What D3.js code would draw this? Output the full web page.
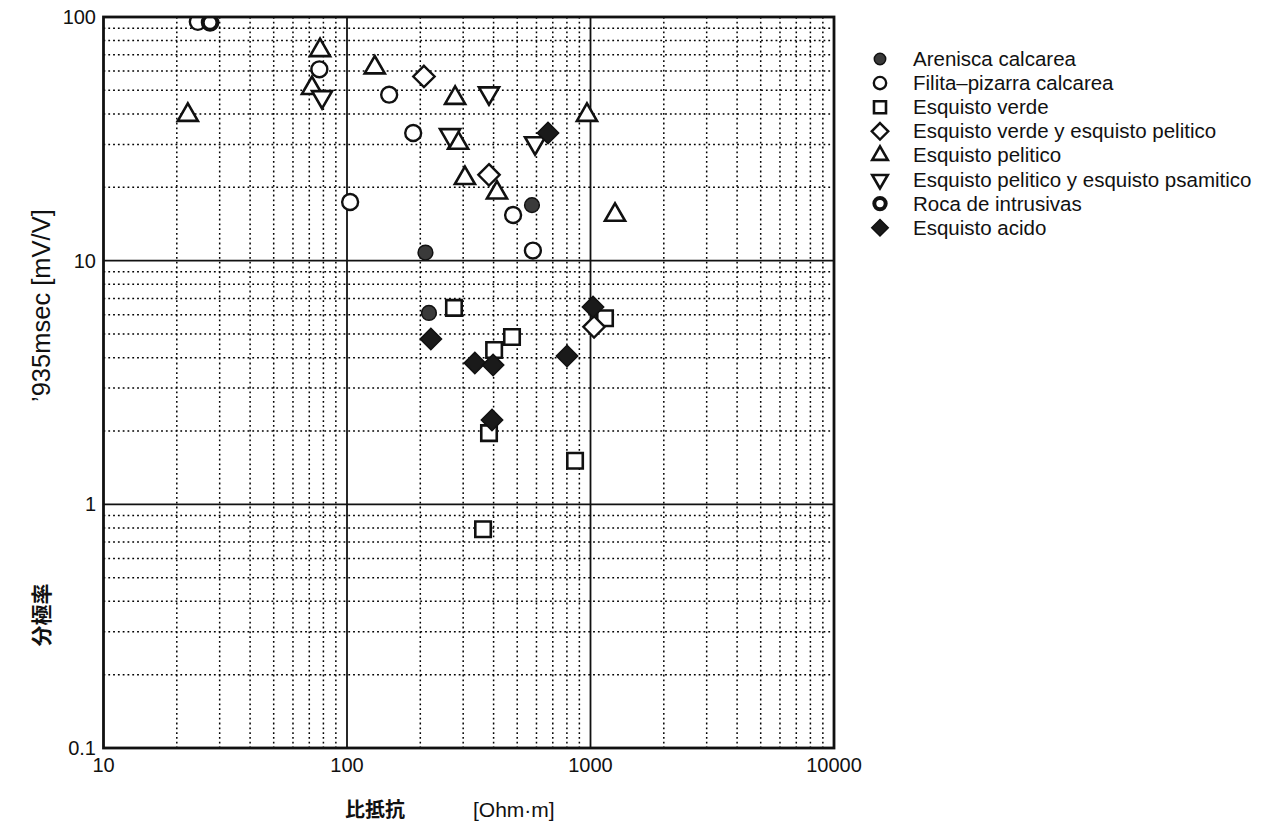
<!DOCTYPE html>
<html>
<head>
    <style>
        body { margin: 0; background: #fff; }
        text { font-family: "Liberation Sans", Arial, sans-serif; fill: #111; }
        .cjk { font-family: "Noto Sans CJK JP", sans-serif; font-weight: bold; }
    </style>
    <script src="https://d3js.org/d3.v7.min.js"></script>
</head>
<body>
    <svg width="1264" height="827"></svg>
    <script>
        // [resistivity Ohm-m, chargeability mV/V]
        var arenisca = [[210, 10.8], [217, 6.1], [575, 16.9]];
        var filita = [[24.4, 95.5], [77, 61], [149, 48], [187, 33.4], [103, 17.4], [481, 15.4], [580, 11]];
        var verde = [[275, 6.4], [1147, 5.8], [476, 4.86], [402, 4.3], [383, 1.96], [864, 1.51], [362, 0.79]];
        var verdePelitico = [[207, 57], [383, 22.5], [1034, 5.35]];
        var pelitico = [[22.2, 39.6], [77.5, 73], [71.8, 51], [130, 62], [278, 46.5], [286, 30.4], [305, 21.8], [413, 19], [967, 39.6], [1261, 15.4]];
        var peliticoPsam = [[79, 47], [383, 48.7], [265, 32.8], [592, 30.4]];
        var roca = [[27.4, 95]];
        var acido = [[669, 33.4], [221, 4.77], [1024, 6.46], [335, 3.8], [398, 3.73], [801, 4.06], [394, 2.22]];

        var seriesNames = ["Arenisca calcarea", "Filita\u2013pizarra calcarea", "Esquisto verde",
            "Esquisto verde y esquisto pelitico", "Esquisto pelitico",
            "Esquisto pelitico y esquisto psamitico", "Roca de intrusivas", "Esquisto acido"];
        var seriesData = [arenisca, filita, verde, verdePelitico, pelitico, peliticoPsam, roca, acido];

        var xTicks = [10, 100, 1000, 10000];
        var yTicks = [0.1, 1, 10, 100];

        var svg = d3.select("svg");
        var pl = 103.5, pr = 834, pt = 17, pb = 748;

        var x = d3.scaleLog().domain([10, 10000]).range([pl, pr]);
        var y = d3.scaleLog().domain([0.1, 100]).range([pb, pt]);

        // marker styles per series
        var styles = [
            {type: d3.symbolCircle, size: 170, fill: "#3a3a3a", stroke: "#111", sw: 1.5, rot: 0},
            {type: d3.symbolCircle, size: 200, fill: "#fff", stroke: "#111", sw: 2.4, rot: 0},
            {type: d3.symbolSquare, size: 240, fill: "#fff", stroke: "#111", sw: 2.6, rot: 0},
            {type: d3.symbolDiamond2, size: 290, fill: "#fff", stroke: "#111", sw: 2.4, rot: 0},
            {type: d3.symbolTriangle, size: 175, fill: "#fff", stroke: "#111", sw: 2.6, rot: 0},
            {type: d3.symbolTriangle, size: 175, fill: "#fff", stroke: "#111", sw: 2.6, rot: 180},
            {type: d3.symbolCircle, size: 170, fill: "#fff", stroke: "#111", sw: 4, rot: 0},
            {type: d3.symbolDiamond2, size: 290, fill: "#1a1a1a", stroke: "#111", sw: 1.5, rot: 0}
        ];

        // grid
        var grid = svg.append("g");
        var minorX = [], minorY = [];
        [10, 100, 1000].forEach(function(d) { for (var k = 2; k <= 9; k++) minorX.push(d * k); });
        [0.1, 1, 10].forEach(function(d) { for (var k = 2; k <= 9; k++) minorY.push(d * k); });

        grid.selectAll(".mx").data(minorX).enter().append("line")
            .attr("x1", function(d) { return x(d); }).attr("x2", function(d) { return x(d); })
            .attr("y1", pt).attr("y2", pb)
            .attr("stroke", "#000").attr("stroke-width", 1.5).attr("stroke-dasharray", "1.8,3");
        grid.selectAll(".my").data(minorY).enter().append("line")
            .attr("y1", function(d) { return y(d); }).attr("y2", function(d) { return y(d); })
            .attr("x1", pl).attr("x2", pr)
            .attr("stroke", "#000").attr("stroke-width", 1.5).attr("stroke-dasharray", "1.8,3");
        grid.selectAll(".Mx").data([100, 1000]).enter().append("line")
            .attr("x1", function(d) { return x(d); }).attr("x2", function(d) { return x(d); })
            .attr("y1", pt).attr("y2", pb)
            .attr("stroke", "#111").attr("stroke-width", 1.8);
        grid.selectAll(".My").data([1, 10]).enter().append("line")
            .attr("y1", function(d) { return y(d); }).attr("y2", function(d) { return y(d); })
            .attr("x1", pl).attr("x2", pr)
            .attr("stroke", "#111").attr("stroke-width", 1.8);

        // points, clipped to the frame
        svg.append("clipPath").attr("id", "plotclip").append("rect")
            .attr("x", pl).attr("y", pt).attr("width", pr - pl).attr("height", pb - pt);
        var pts = svg.append("g").attr("clip-path", "url(#plotclip)");

        seriesData.forEach(function(data, i) {
            var s = styles[i];
            pts.selectAll(".s" + i).data(data).enter().append("path")
                .attr("d", d3.symbol().type(s.type).size(s.size))
                .attr("transform", function(d) { return "translate(" + x(d[0]) + "," + y(d[1]) + ") rotate(" + s.rot + ")"; })
                .attr("fill", s.fill).attr("stroke", s.stroke).attr("stroke-width", s.sw);
        });

        // frame
        svg.append("rect").attr("x", pl).attr("y", pt)
            .attr("width", pr - pl).attr("height", pb - pt)
            .attr("fill", "none").attr("stroke", "#111").attr("stroke-width", 2.8);

        // tick labels
        svg.selectAll(".xt").data(xTicks).enter().append("text")
            .attr("x", function(d) { return x(d); }).attr("y", 772)
            .attr("text-anchor", "middle").style("font-size", "20px")
            .text(function(d) { return d; });
        svg.selectAll(".yt").data(yTicks).enter().append("text")
            .attr("x", 96).attr("y", function(d) { return y(d) + 7; })
            .attr("text-anchor", "end").style("font-size", "20px")
            .text(function(d) { return d; });

        // axis titles
        svg.append("text").attr("class", "cjk").attr("x", 375).attr("y", 817)
            .attr("text-anchor", "middle").style("font-size", "20px").text("比抵抗");
        svg.append("text").attr("x", 473).attr("y", 817)
            .style("font-size", "21px").text("[Ohm\u00b7m]");

        svg.append("text").attr("class", "cjk")
            .attr("transform", "translate(49,615) rotate(-90)")
            .attr("text-anchor", "middle").style("font-size", "21px").text("分極率");
        svg.append("text")
            .attr("transform", "translate(50,402) rotate(-90)")
            .style("font-size", "25.5px").text("\u2019935msec [mV/V]");

        // legend
        var legend = svg.append("g").attr("transform", "translate(880,59)");
        seriesNames.forEach(function(name, i) {
            var s = styles[i];
            var row = legend.append("g").attr("transform", "translate(0," + (i * 24.1) + ")");
            row.append("path")
                .attr("d", d3.symbol().type(s.type).size(s.size * 0.6))
                .attr("transform", "rotate(" + s.rot + ")")
                .attr("fill", s.fill).attr("stroke", s.stroke).attr("stroke-width", s.sw);
            row.append("text").attr("x", 33).attr("y", 7)
                .style("font-size", "20.5px").text(name);
        });
    </script>
</body>
</html>
